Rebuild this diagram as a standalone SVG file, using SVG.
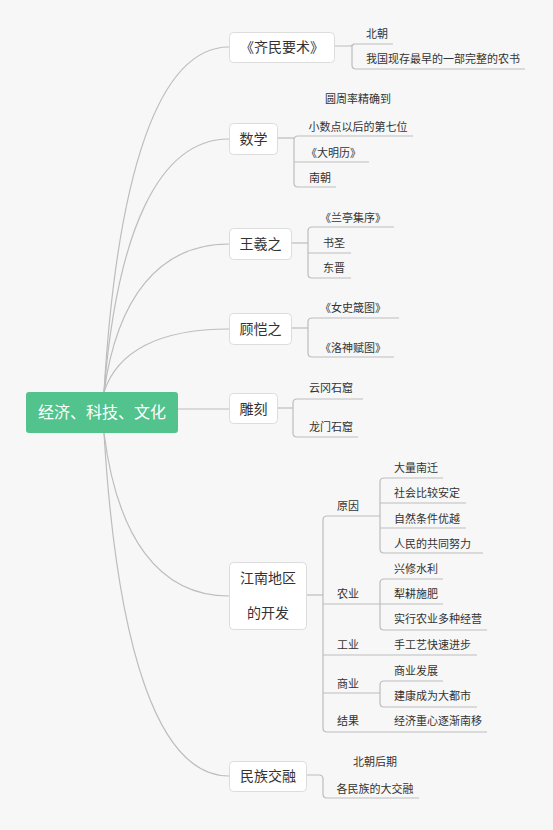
<svg xmlns="http://www.w3.org/2000/svg" width="553" height="830" viewBox="0 0 553 830">
<style>
.bg{fill:#F7F7F7}
.box{fill:#FFFFFF;stroke:#DCDCDC;stroke-width:1}
.root{fill:#52C38C}
.ln{fill:none;stroke:#BDBDBD;stroke-width:1.2}
.t{font-family:"Noto Sans CJK SC","Noto Sans",sans-serif;fill:#333333}
.m{font-size:14px;text-anchor:middle}
.s{font-size:11px}
.c{text-anchor:middle}
.rt{font-family:"Noto Sans CJK SC","Noto Sans",sans-serif;font-size:16px;fill:#FFFFFF;text-anchor:middle}
</style>
<rect class="bg" x="0" y="0" width="553" height="830"/>
<g id="connectors">
<path class="ln" d="M104 392 C117 175 158 47 229 47"/>
<path class="ln" d="M104 392 C117 233 158 139 229 139"/>
<path class="ln" d="M104 392 C117 299 158 244 229 244"/>
<path class="ln" d="M104 392 C117 352 158 329 229 329"/>
<path class="ln" d="M178 409 H229"/>
<path class="ln" d="M104 433 C117 536 158 596 229 596"/>
<path class="ln" d="M104 433 C117 649 158 776 229 776"/>
<path class="ln" d="M335 46 H350 Q352 46 354 44 H393"/>
<path class="ln" d="M352 45 V65 Q352 69 356 69 H525"/>
<path class="ln" d="M278 138 H294"/>
<path class="ln" d="M413 136 H298 Q294 136 294 140 V183 Q294 187 298 187 H336"/>
<path class="ln" d="M294 162 H369"/>
<path class="ln" d="M292 243 H308"/>
<path class="ln" d="M394 227 H312 Q308 227 308 231 V274 Q308 278 312 278 H351"/>
<path class="ln" d="M308 253 H351"/>
<path class="ln" d="M292 328 H308"/>
<path class="ln" d="M399 318 H312 Q308 318 308 322 V353 Q308 357 312 357 H394"/>
<path class="ln" d="M278 408 H293"/>
<path class="ln" d="M363 399 H297 Q293 399 293 403 V433 Q293 437 297 437 H358"/>
<path class="ln" d="M307 595 H323"/>
<path class="ln" d="M380 516 H327 Q323 516 323 520 V728 Q323 732 327 732 H487"/>
<path class="ln" d="M323 604 H443"/>
<path class="ln" d="M323 655 H477"/>
<path class="ln" d="M323 693 H380"/>
<path class="ln" d="M443 478 H384 Q380 478 380 482 V549 Q380 553 384 553 H483"/>
<path class="ln" d="M380 503 H466"/>
<path class="ln" d="M380 528 H466"/>
<path class="ln" d="M443 579 H384 Q380 579 380 583 V626 Q380 630 384 630 H487"/>
<path class="ln" d="M443 681 H384 Q380 681 380 685 V703 Q380 707 384 707 H477"/>
<path class="ln" d="M307 775 H319 Q323 775 323 779 V794 Q323 798 327 798 H419"/>
</g>
<g id="root">
<rect class="root" x="26" y="392" width="152" height="41" rx="3"/>
<text class="rt" x="102" y="418">经济、科技、文化</text>
</g>
<g id="qimin">
<rect class="box" x="229.5" y="32.5" width="105" height="30" rx="4"/>
<text class="t m" x="282" y="52">《齐民要术》</text>
<text class="t s" x="366" y="38">北朝</text>
<text class="t s" x="366" y="63">我国现存最早的一部完整的农书</text>
</g>
<g id="shuxue">
<rect class="box" x="229.5" y="123.5" width="48" height="31" rx="4"/>
<text class="t m" x="253.5" y="144">数学</text>
<text class="t s c" x="358" y="103">圆周率精确到</text>
<text class="t s c" x="358" y="131">小数点以后的第七位</text>
<text class="t s" x="306" y="157">《大明历》</text>
<text class="t s" x="309" y="182">南朝</text>
</g>
<g id="wangxizhi">
<rect class="box" x="229.5" y="228.5" width="62" height="31" rx="4"/>
<text class="t m" x="260.5" y="249">王羲之</text>
<text class="t s" x="320" y="222">《兰亭集序》</text>
<text class="t s" x="323" y="247">书圣</text>
<text class="t s" x="323" y="272">东晋</text>
</g>
<g id="gukaizhi">
<rect class="box" x="229.5" y="313.5" width="62" height="31" rx="4"/>
<text class="t m" x="260.5" y="334">顾恺之</text>
<text class="t s" x="320" y="312">《女史箴图》</text>
<text class="t s" x="320" y="352">《洛神赋图》</text>
</g>
<g id="diaoke">
<rect class="box" x="229.5" y="393.5" width="48" height="30" rx="4"/>
<text class="t m" x="253.5" y="413.5">雕刻</text>
<text class="t s" x="309" y="392">云冈石窟</text>
<text class="t s" x="309" y="431">龙门石窟</text>
</g>
<g id="jiangnan">
<rect class="box" x="229.5" y="562.5" width="77" height="67" rx="4"/>
<text class="t m" x="268" y="583">江南地区</text>
<text class="t m" x="268" y="618">的开发</text>
<text class="t s" x="337" y="510">原因</text>
<text class="t s" x="394" y="472">大量南迁</text>
<text class="t s" x="394" y="497">社会比较安定</text>
<text class="t s" x="394" y="523">自然条件优越</text>
<text class="t s" x="394" y="548">人民的共同努力</text>
<text class="t s" x="337" y="598">农业</text>
<text class="t s" x="394" y="573">兴修水利</text>
<text class="t s" x="394" y="598">犁耕施肥</text>
<text class="t s" x="394" y="623">实行农业多种经营</text>
<text class="t s" x="337" y="649">工业</text>
<text class="t s" x="394" y="649">手工艺快速进步</text>
<text class="t s" x="337" y="688">商业</text>
<text class="t s" x="394" y="675">商业发展</text>
<text class="t s" x="394" y="700">建康成为大都市</text>
<text class="t s" x="337" y="725">结果</text>
<text class="t s" x="394" y="725">经济重心逐渐南移</text>
</g>
<g id="minzu">
<rect class="box" x="229.5" y="761.5" width="77" height="30" rx="4"/>
<text class="t m" x="268" y="781">民族交融</text>
<text class="t s c" x="375" y="766">北朝后期</text>
<text class="t s c" x="375" y="793">各民族的大交融</text>
</g>
</svg>
